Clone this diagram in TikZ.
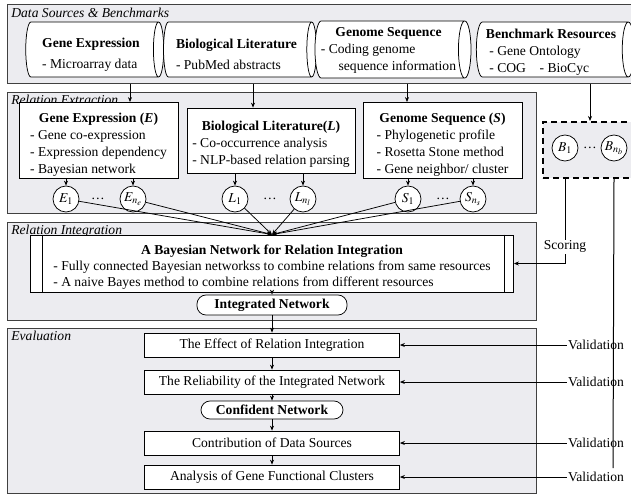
\documentclass[tikz,border=0pt]{standalone}
\usepackage{mathptmx}
\usepackage{fontspec}
\setmainfont{Liberation Serif}
\usepackage{tikz}
\usetikzlibrary{shapes.geometric,positioning,arrows.meta,calc}
\definecolor{panelgray}{RGB}{236,236,240}
\newcommand{\topgap}[1]{\rule{0pt}{#1}}
\tikzset{
  >={Stealth[length=5pt,width=4pt]},
  panel/.style={draw=black!75, fill=panelgray, anchor=north west, inner sep=0pt},
  paneltitle/.style={anchor=north west, inner sep=1pt, font=\itshape},
  source/.style={cylinder, draw, fill=white, shape aspect=0.22, minimum width=55pt, inner sep=2pt},
  method/.style={draw, fill=white, inner sep=0pt, minimum height=65pt, align=center},
  rel/.style={circle, draw, fill=white, minimum size=26pt, inner sep=0pt},
  task/.style={draw, fill=white, minimum width=255pt, minimum height=24pt, inner sep=0pt},
  result/.style={draw, fill=white, rounded corners=9pt, inner sep=0pt, font=\bfseries},
}

\begin{document}
\fontsize{13.6}{17}\selectfont
\begin{tikzpicture}[x=1pt, y=-1pt, line width=0.75pt]
\useasboundingbox (0,0) rectangle (631,495);

% four panels
\node[panel, minimum width=640pt, minimum height=79pt] (p1) at (7,4) {};
\node[panel, minimum width=529pt, minimum height=121pt] (p2) at (7,92) {};
\node[panel, minimum width=529pt, minimum height=98pt] (p3) at (7,222) {};
\node[panel, minimum width=529pt, minimum height=165pt] (p4) at (7,328) {};
\node[paneltitle] (t1) at ([xshift=3pt,yshift=-3pt]p1.north west) {Data Sources \& Benchmarks};
\node[paneltitle] (t2) at ([xshift=3pt,yshift=-2pt]p2.north west) {Relation Extraction};
\node[paneltitle] (t3) at ([xshift=3pt,yshift=-2pt]p3.north west) {Relation Integration};
\node[paneltitle] (t4) at ([xshift=3pt,yshift=-2pt]p4.north west) {Evaluation};

% data sources
\node[source, minimum height=138pt, align=left] (ge) at (91,49.5)
  {\topgap{19pt}\textbf{Gene Expression}\\[4pt]- Microarray data};
\node[source, minimum height=153pt, align=left] (bl) at (236.5,49.5)
  {\topgap{19pt}\textbf{Biological Literature}\\[4pt]- PubMed abstracts};
\node[source, minimum height=151pt, align=center] (gs) at (388.5,49.5)
  {\topgap{14pt}\textbf{Genome Sequence}\\\begin{tabular}[t]{@{}l@{}}- Coding genome\\\hspace{1.3em}sequence information\end{tabular}};
\node[source, minimum height=158pt, align=left] (br) at (551,49.5)
  {\topgap{14pt}\textbf{Benchmark Resources}\\\ - Gene Ontology\\\ - COG\quad - BioCyc};

% relation extraction
\node[method, minimum width=159pt] (eb) at (98.5,140.5)
  {\topgap{20pt}\textbf{Gene Expression (\textit{E})}\\\begin{tabular}[t]{@{}l@{}}- Gene co-expression\\- Expression dependency\\- Bayesian network\end{tabular}};
\node[method, minimum width=168pt] (lb) at (271,140.5)
  {\topgap{20pt}\textbf{Biological Literature(\textit{L})}\\\begin{tabular}[t]{@{}l@{}}- Co-occurrence analysis\\- NLP-based relation parsing\end{tabular}};
\node[method, minimum width=159pt] (sb) at (442.5,140.5)
  {\topgap{20pt}\textbf{Genome Sequence (\textit{S})}\\\begin{tabular}[t]{@{}l@{}}- Phylogenetic profile\\- Rosetta Stone method\\- Gene neighbor/ cluster\end{tabular}};

\node[rel] (e1) at (66,199) {$E_1$};
\node (d1) at (98,199) {\dots};
\node[rel] (ene) at (133,199) {$E_{n_e}$};
\node[rel] (l1) at (235,199) {$L_1$};
\node (d2) at (270,199) {\dots};
\node[rel] (lnl) at (303,199) {$L_{n_l}$};
\node[rel] (s1) at (408,199) {$S_1$};
\node (d3) at (443,199) {\dots};
\node[rel] (sns) at (473,199) {$S_{n_s}$};

% benchmark relations
\node[draw, dashed, line width=2pt, dash pattern=on 6pt off 4pt, fill=panelgray,
  minimum width=94pt, minimum height=56pt] (bbox) at (590,150) {};
\node[rel] (b1) at (565,148) {$B_1$};
\node (d4) at (590,148) {\dots};
\node[rel] (bnb) at (614,148) {$B_{n_b}$};

\draw[->] ([xshift=31.5pt]eb.north |- p1.south) -- ([xshift=31.5pt]eb.north);
\draw[->] ([xshift=-18pt]lb.north |- p1.south) -- ([xshift=-18pt]lb.north);
\draw[->] ([xshift=-35.5pt]sb.north |- p1.south) -- ([xshift=-35.5pt]sb.north);
\draw[->] (bbox.north |- p1.south) -- (bbox.north);
\foreach \c in {e1,ene} \draw[->] (\c |- eb.south) -- (\c);
\foreach \c in {l1,lnl} \draw[->] (\c |- lb.south) -- (\c);
\foreach \c in {s1,sns} \draw[->] (\c |- sb.south) -- (\c);

% relation integration
\node[draw, fill=white, minimum width=483pt, minimum height=47pt, inner sep=0pt, align=center] (bn) at (272,263.5)
  {\topgap{20pt}\textbf{A Bayesian Network for Relation Integration}\\[-1pt]\begin{tabular}[t]{@{}l@{}}- Fully connected Bayesian networkss to combine relations from same resources\\[-1pt]- A naive Bayes method to combine relations from different resources\end{tabular}};
\draw ([xshift=12pt]bn.north west) -- ([xshift=12pt]bn.south west);
\draw ([xshift=-10pt]bn.north east) -- ([xshift=-10pt]bn.south east);
\foreach \c in {e1,ene,l1,lnl,s1,sns} \draw[->] (\c) -- (bn.north);
\node[result, minimum width=150pt, minimum height=20pt] (inet) at (272,305) {Integrated Network};

% evaluation
\node[task] (ev1) at (272,345) {The Effect of Relation Integration};
\node[task] (ev2) at (272,382) {The Reliability of the Integrated Network};
\node[result, minimum width=142pt, minimum height=18pt] (conf) at (272,410) {Confident Network};
\node[task] (ev3) at (272,443) {Contribution of Data Sources};
\node[task] (ev4) at (272,477) {Analysis of Gene Functional Clusters};
\draw[->] (bn) -- (inet);
\draw[->] (inet) -- (ev1);
\draw[->] (ev1) -- (ev2);
\draw[->] (ev2) -- (conf);
\draw[->] (conf) -- (ev3);
\draw[->] (ev3) -- (ev4);

% scoring and validation
\draw[->] (b1 |- bbox.south) |- node[pos=0.4, fill=white, inner sep=1pt] (sc) {Scoring} (bn.east);
\coordinate (vend) at (613,468);
\draw[line width=1pt] (bnb |- bbox.south) -- (vend);
\foreach \i/\y in {1/345,2/382,3/443,4/477} {
  \node[inner sep=1pt] (v\i) at (596,\y) {Validation};
  \draw[->] (v\i) -- (ev\i);
}
\end{tikzpicture}
\end{document}
